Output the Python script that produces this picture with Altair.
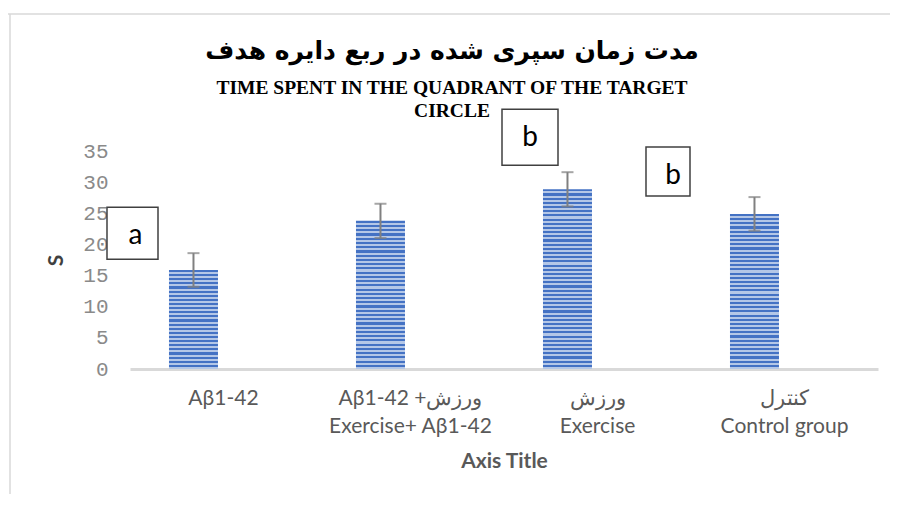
import altair as alt
import pandas as pd

# ---------------- data ----------------
categories = [
    "Aβ1-42",
    "Aβ1-42 +ورزش\nExercise+ Aβ1-42",
    "ورزش\nExercise",
    "کنترل\nControl group",
]
mean_time = [15.9, 23.8, 28.85, 24.9]
sem = [2.7, 2.75, 2.75, 2.7]
y_ticks = [0, 5, 10, 15, 20, 25, 30, 35]

letters = ["a", "b", "b"]
letter_group = [0, 2, 3]          # index of the category each letter belongs to
letter_level = [21.8, 37.2, 31.7]  # vertical level (in seconds) of each letter box

title_fa = "مدت زمان سپری شده در ربع دایره هدف"
title_en = ["TIME SPENT IN THE QUADRANT OF THE TARGET", "CIRCLE"]
x_title = "Axis Title"
y_title = "S"

# ---------------- layout / style ----------------
PLOT_W, PLOT_H, Y_MAX = 748, 218, 35
BAND = PLOT_W / len(categories)
DARK, LIGHT = "#4472c4", "#b4c7e7"
ERR = "#808080"
FRAME = "#d9d9d9"
box_style = [  # (x offset from band centre, width, height, letter dx, letter dy)
    (-91, 51, 52, 3, 3),
    (-67.5, 56, 56, 0, 1),
    (-116.5, 44, 49, 5, 4),
]

df = pd.DataFrame({
    "idx": list(range(len(categories))),
    "group": categories,
    "value": mean_time,
    "low": [v - e for v, e in zip(mean_time, sem)],
    "high": [v + e for v, e in zip(mean_time, sem)],
    "series": "s1",
})

x_axis = alt.Axis(
    labelExpr="split(datum.label, '\\n')",
    labelFont="Lato", labelFontSize=21, labelColor="#595959",
    labelLineHeight=28, labelPadding=18, labelAngle=0, labelLimit=400,
    labelOverlap=False, ticks=False,
    domainColor=FRAME, domainWidth=3,
    title=x_title, titleFont="Lato", titleFontSize=21, titleFontWeight="bold",
    titleColor="#595959", titlePadding=14,
)
y_axis = alt.Axis(
    values=y_ticks, grid=False, domain=False, ticks=False,
    labelFont="Liberation Mono", labelFontSize=21, labelColor="#8a8a8a",
    labelPadding=22,
    title=y_title, titleFont="Lato", titleFontSize=21, titleFontWeight="bold",
    titleColor="#404040", titlePadding=16,
)


def X():
    return alt.X("group:N", sort=categories,
                 scale=alt.Scale(paddingInner=0, paddingOuter=0), axis=x_axis)


def Y(field):
    return alt.Y(f"{field}:Q", scale=alt.Scale(domain=[0, Y_MAX], nice=False),
                 axis=y_axis)


XO = alt.XOffset("series:N", scale=alt.Scale(domain=["s1", "s2"], paddingInner=0,
                                              paddingOuter=0.908, align=0.438))


def stripes(value, period=4.2):
    h = value * PLOT_H / Y_MAX
    n = max(1, round(h / period))
    stops = []
    for i in range(n):
        a, m, b = i / n, (i + 0.5) / n, (i + 1) / n
        stops += [
            alt.GradientStop(offset=a, color=DARK),
            alt.GradientStop(offset=m, color=DARK),
            alt.GradientStop(offset=m, color=LIGHT),
            alt.GradientStop(offset=min(b, 1), color=LIGHT),
        ]
    return alt.LinearGradient(gradient="linear", stops=stops, x1=0, x2=0, y1=0, y2=1)


base = alt.Chart(df)
layers = []
for i, v in enumerate(mean_time):
    layers.append(
        base.transform_filter(alt.datum.idx == i)
        .mark_bar(color=stripes(v))
        .encode(x=X(), xOffset=XO, y=Y("value"))
    )

layers.append(base.mark_rule(color=ERR, strokeWidth=2).encode(
    x=X(), xOffset=XO, y=Y("low"), y2="high"))
layers.append(base.mark_tick(color=ERR, thickness=2, size=12).encode(
    x=X(), xOffset=XO, y=Y("high")))
layers.append(base.mark_tick(color=ERR, thickness=2, size=12).encode(
    x=X(), xOffset=XO, y=Y("low")))

ann = pd.DataFrame({
    "letter": letters,
    "group": [categories[g] for g in letter_group],
    "level": letter_level,
})
for k, (off, w, h, ldx, ldy) in enumerate(box_style):
    s = max(w, h)
    path = f"M{-w / s:.4f},{-h / s:.4f}H{w / s:.4f}V{h / s:.4f}H{-w / s:.4f}Z"
    one = alt.Chart(ann.iloc[[k]])
    # xOffset value is measured from the band start
    layers.append(one.mark_point(shape=path, size=s * s, filled=True, fill="white",
                                 stroke="#404040", strokeWidth=1.5, opacity=1).encode(
        x=X(), y=Y("level"), xOffset=alt.value(BAND / 2 + off)))
    layers.append(one.mark_text(font="Lato", fontSize=28, color="black",
                                align="center", baseline="middle",
                                dx=off + ldx, dy=ldy).encode(
        x=X(), y=Y("level"), text="letter:N"))

one_row = alt.Chart(pd.DataFrame({"k": [0]}))
# chart frame (top and left edges)
layers.append(one_row.mark_rule(color=FRAME, strokeWidth=1.5).encode(
    x=alt.value(-125), x2=alt.value(770), y=alt.value(-137)))
layers.append(one_row.mark_rule(color=FRAME, strokeWidth=1.5).encode(
    x=alt.value(-120), y=alt.value(-137), y2=alt.value(360)))

# titles
layers.append(one_row.mark_text(font="DejaVu Sans", fontSize=25, fontWeight="bold",
                                color="black", align="center",
                                baseline="alphabetic").encode(
    x=alt.value(322), y=alt.value(-92), text=alt.value(title_fa)))
layers.append(one_row.mark_text(font="Liberation Serif", fontSize=19.5, fontWeight="bold",
                                color="black", align="center", baseline="alphabetic",
                                lineHeight=22.5).encode(
    x=alt.value(322), y=alt.value(-57), text=alt.value(title_en)))

chart = alt.layer(*layers).properties(
    width=PLOT_W, height=PLOT_H,
    background="white",
    autosize=alt.AutoSizeParams(type="none"),
    padding={"left": 122, "top": 143, "right": 12, "bottom": 125},
).configure_view(strokeWidth=0)

chart.save("out.html", embed_options={"renderer": "svg", "actions": False})
